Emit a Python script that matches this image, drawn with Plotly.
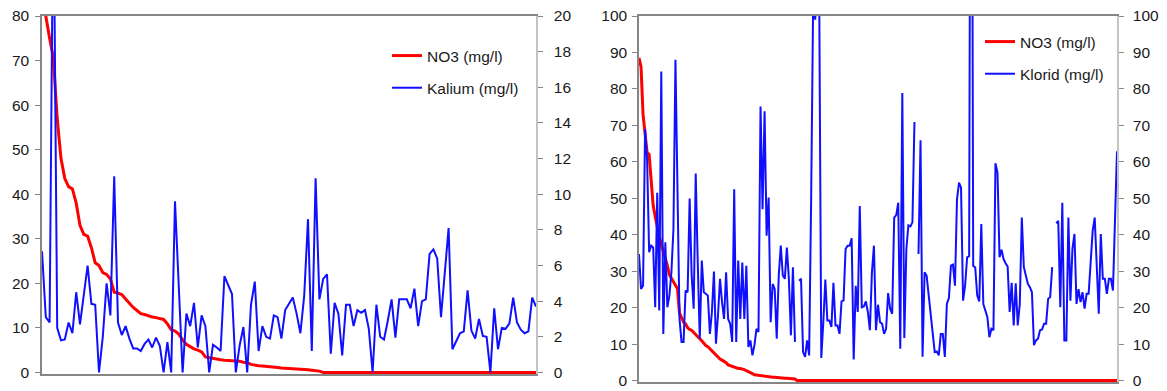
import plotly.graph_objects as go

# ---------------- Left chart: NO3 vs Kalium ----------------
no3_left = [
    90, 80, 75, 70.5, 57, 48, 43.5, 41.7, 41.2, 38,
    33, 31, 30.6, 28, 24.6, 24, 22.4, 22, 21, 18,
    17.8, 17.5, 16.5, 15.5, 14.6, 13.9, 13.2, 13, 12.7, 12.45,
    12.3, 12.1, 11.9, 10.9, 9.6, 9.3, 8.6, 7.3, 6.3, 5.8,
    5.3, 5.0, 4.6, 3.5, 3.3, 3.1, 3.0, 2.85, 2.75, 2.7,
    2.6, 2.6, 2.5, 2.3, 2.2, 1.8, 1.6, 1.5, 1.45, 1.4,
    1.3, 1.2, 1.1, 1.0, 0.9, 0.85, 0.8, 0.75, 0.7, 0.7,
    0.6, 0.5, 0.4, 0.3,
    0, 0, 0, 0, 0, 0, 0, 0, 0, 0,
    0, 0, 0, 0, 0, 0, 0, 0, 0, 0,
    0, 0, 0, 0, 0, 0, 0, 0, 0, 0,
    0, 0, 0, 0, 0, 0, 0, 0, 0, 0,
    0, 0, 0, 0, 0, 0, 0, 0, 0, 0,
    0, 0, 0, 0, 0, 0, 0,
]

kalium = [
    6.8, 3.1, 2.8, 28, 2.5, 1.8, 1.85, 2.8, 2.2, 4.5,
    2.7, 4.4, 6.0, 3.85, 3.8, 0, 2.0, 5.0, 3.2, 11.0,
    2.8, 2.1, 2.6, 1.9, 1.35, 1.35, 1.2, 1.6, 1.85, 1.4,
    1.95, 1.5, 0, 1.7, 0, 9.6, 4.8, 0, 3.3, 2.6,
    3.9, 1.4, 3.2, 2.6,
    0, 1.55, 1.4, 1.2, 5.4, 4.9, 4.4, 0, 1.5, 2.55,
    0, 3.8, 5.1, 1.2, 2.6, 2.0, 1.9, 3.2, 3.1, 1.9,
    3.5, 3.85, 4.2, 3.3, 2.2, 4.3, 8.6, 1.2, 10.9, 4.1,
    5.25, 5.5, 1.05, 3.9, 3.3, 0.95, 3.8, 3.8, 2.6, 3.5,
    3.35, 3.5, 2.45, 0,
    3.8, 2.0, 1.85, 2.9, 4.1, 1.95, 4.1, 4.1, 4.1, 3.6,
    4.7, 2.6, 4.0, 4.1, 6.65, 6.9, 6.4, 3.1, 5.6, 8.1,
    1.3, 1.8, 2.2, 2.3, 4.6, 2.35, 1.9, 3.0, 2.05, 2.0,
    0, 3.6, 1.3, 2.5, 2.45, 2.75, 4.2, 2.8, 2.4, 2.2,
    2.3, 4.2, 3.7,
]
samples_left = list(range(len(kalium)))

# ---------------- Right chart: NO3 vs Klorid ----------------
no3_right = [
    88.5, 86, 73, 67, 62.5, 62, 55, 48, 45, 42,
    39.5, 37.5, 35.5, 34, 31.5, 29, 28, 26.8, 26, 25.2,
    18.5, 17, 16, 15.5, 14.5, 14, 13.8, 13.2, 12.5, 12,
    11.5, 10.8, 10, 9.6, 9.3, 8.7, 8.2, 7.5, 6.8, 6.4,
    5.9, 5.6, 5.3, 4.9, 4.3, 4.1, 3.9, 3.6, 3.4, 3.3,
    3.3, 3.2, 3.0, 2.7, 2.5, 2.2, 1.9, 1.6, 1.5, 1.4,
    1.3, 1.3, 1.2, 1.1, 1.0, 1.0, 0.9, 0.9, 0.8, 0.8,
    0.7, 0.7, 0.6, 0.6, 0.5, 0.5, 0.4, 0.4,
    0, 0, 0, 0, 0, 0, 0, 0, 0, 0,
    0, 0, 0, 0, 0, 0, 0, 0, 0, 0,
    0, 0, 0, 0, 0, 0, 0, 0, 0, 0,
    0, 0, 0, 0, 0, 0, 0, 0, 0, 0,
    0, 0, 0, 0, 0, 0, 0, 0, 0, 0,
    0, 0, 0, 0, 0, 0, 0, 0, 0, 0,
    0, 0, 0, 0, 0, 0, 0, 0, 0, 0,
    0, 0, 0, 0, 0, 0, 0, 0, 0, 0,
    0, 0, 0, 0, 0, 0, 0, 0, 0, 0,
    0, 0, 0, 0, 0, 0, 0, 0, 0, 0,
    0, 0, 0, 0, 0, 0, 0, 0, 0, 0,
    0, 0, 0, 0, 0, 0, 0, 0, 0, 0,
    0, 0, 0, 0, 0, 0, 0, 0, 0, 0,
    0, 0, 0, 0, 0, 0, 0, 0, 0, 0,
    0, 0, 0, 0, 0, 0, 0, 0, 0, 0,
    0, 0, 0, 0, 0, 0, 0, 0, 0,
]

klorid = [
    34.7, 25.1, 26, 68.9, 60.7, 35.2, 37, 36.5, 20.1, 51.5,
    19.2, 84.8, 12.8, 37.9, 20.1, 23.3, 29.7, 41.5, 88, 47.9,
    16.9, 10.6, 10.6, 24.7, 24.2, 49.9, 28.8, 19.7, 56.8, 32.4,
    11.5, 32.9, 24.2, 23.8, 23.3, 12.8, 18.8, 29.9, 10.1, 17.9,
    27.9, 21.5, 16.9, 29.7, 16.9, 15.6, 10.6, 52.5, 10.6, 32.9,
    16.9, 32.4, 16.9, 31.5, 9.2, 11, 6.9, 9.7, 14.2, 13.3,
    75.2, 47, 73.9, 39.7, 50.2, 16, 26.5, 25.1, 11.5, 28.8,
    37, 28.8, 27.9, 36.5, 27.9, 12.4, 31.1, 10.6,
    None, 27.4, 27.9, 7.8, 6.5, 11, 6.9, 50, 105, 99,
    108, 104, 6.2, 16, 27.7, 16.5, 16.5, 14.7, 26.8, 15.1,
    15.1, 12.8, 21.7, 22, 36.1, 37, 37, 39, 5.8, 26,
    18.8, 47.9, 20.1, 20.3, 21.7, 18.8, 13.8, 29.7, 37, 13.8,
    20.8, 16, 15.6, 12.8, 14.2, 24, 19.7, 18.3, 44.7, 45.4,
    48.8, 8.7, 78.9, 11.7, 36.1, 42.6, 42.3, 43.4, 70.9, None,
    34.7, 65.9, 6.5, 29.7, 28.8, 23.3, 18, 13.3, 7.8, 8,
    6.9, 12.8, 12.8, 6.5, 21, 22.6, 31.5, 31.8, 26,
    49.7, 54.3, 52.9, 21.9, 26, 33.8, 34.1, 250, 31.5, 31,
    23.3, 21.7, 42.9, 21, 19.2, 17.4, 11.9, 14.2, 13.8, 59.6,
    57, 33.8, 35.9, 33.3, 32.2, 31.3, 18.8, 26.8, 15.1, 26.7,
    15.1, 21, 44.7, 31.1, 28.8, 26.5, 25.6, 24.2, 9.7, 11,
    11.5, 13.8, 14, 15.6, 15.6, 22.4, 22.9, 31.1, None, 43.1,
    43.8, 20.1, 48.8, 11, 11, 44.7, 21.9, 36.1, 40.2, 21,
    25.1, 21.5, 24.2, 19.7, 23.8, 23.8, 32.4, 41.1, 44.7, 30.6,
    18.3, 40.2, 27.9, 27.9, 23.8, 27.9, 27.9, 24.7, 43.4, 62.9,
]
samples_right = list(range(len(klorid)))

ticks_no3_left = [0, 10, 20, 30, 40, 50, 60, 70, 80]
ticks_kalium = [0, 2, 4, 6, 8, 10, 12, 14, 16, 18, 20]
ticks_right = [0, 10, 20, 30, 40, 50, 60, 70, 80, 90, 100]

RED = "#ff0000"
BLUE = "#1010ff"
FONT = "Liberation Sans, Arial, sans-serif"
TXT = "#1a1a1a"
AX = "#868686"
AX_LIGHT = "#c4c4c4"

fig = go.Figure()
fig.add_trace(go.Scatter(x=samples_left, y=no3_left, name="NO3 (mg/l)", mode="lines",
                         line=dict(color=RED, width=3), xaxis="x", yaxis="y",
                         legend="legend", legendgroup="a"))
fig.add_trace(go.Scatter(x=samples_left, y=kalium, name="Kalium (mg/l)", mode="lines",
                         line=dict(color=BLUE, width=2), xaxis="x", yaxis="y2",
                         legend="legend", legendgroup="b"))
fig.add_trace(go.Scatter(x=samples_right, y=no3_right, name="NO3 (mg/l)", mode="lines",
                         line=dict(color=RED, width=3), xaxis="x2", yaxis="y3",
                         legend="legend2", legendgroup="c"))
fig.add_trace(go.Scatter(x=samples_right, y=klorid, name="Klorid (mg/l)", mode="lines",
                         line=dict(color=BLUE, width=2), xaxis="x2", yaxis="y4",
                         legend="legend2", legendgroup="d"))

# page (window) geometry; the HTML body has an 8px default margin
OFF = 8
PAGE_W, PAGE_H = 1167, 391
P_LEFT, P_RIGHT, P_TOP, P_BOTTOM = 42, 1117, 16, 382
W, H = PAGE_W - OFF, PAGE_H - OFF
ML = P_LEFT - OFF
MT = P_TOP - OFF
MR = W - (P_RIGHT - OFF)
MB = H - (P_BOTTOM - OFF)
plot_w = P_RIGHT - P_LEFT
plot_h = P_BOTTOM - P_TOP

def px_x(p):
    return (p - P_LEFT) / plot_w

def px_y(p):
    return 1 - (p - P_TOP) / plot_h

left_dom = [0, px_x(536)]
right_dom = [px_x(639), 1]
left_ydom = [px_y(374), 1]

xcommon = dict(showticklabels=False, ticks="", showgrid=False, zeroline=False,
               showline=True, linecolor=AX, linewidth=1.5, mirror=True,
               layer="below traces", automargin=False)
ycommon = dict(ticks="outside", ticklen=5, tickwidth=1, tickcolor=AX, showgrid=False,
               zeroline=False, showline=True, linewidth=1.5, automargin=False,
               ticklabeloverflow="allow",
               tickfont=dict(family=FONT, size=15.5, color=TXT), layer="below traces")

fig.update_layout(
    width=W, height=H,
    margin=dict(l=ML, r=MR, t=MT, b=MB, autoexpand=False),
    paper_bgcolor="white", plot_bgcolor="white",
    font=dict(family=FONT, size=15, color=TXT),
    xaxis=dict(domain=left_dom, anchor="y", range=[0, len(kalium) - 1], **xcommon),
    yaxis=dict(domain=left_ydom, anchor="x", range=[-0.35, 80], tickvals=ticks_no3_left,
               linecolor=AX, ticklabelstandoff=3, **ycommon),
    yaxis2=dict(overlaying="y", side="right", anchor="x", range=[-0.0875, 20],
                tickvals=ticks_kalium, linecolor=AX_LIGHT, ticklabelstandoff=8, **ycommon),
    xaxis2=dict(domain=right_dom, anchor="y3", range=[0, len(klorid) - 1], **xcommon),
    yaxis3=dict(domain=[0, 1], anchor="x2", range=[-0.4, 100], tickvals=ticks_right,
                linecolor=AX, ticklabelstandoff=2, **ycommon),
    yaxis4=dict(overlaying="y3", side="right", anchor="x2", range=[-0.4, 100],
                tickvals=ticks_right, linecolor=AX_LIGHT, ticklabelstandoff=6, **ycommon),
    legend=dict(x=px_x(387), y=px_y(39), xanchor="left", yanchor="top",
                bgcolor="rgba(0,0,0,0)", font=dict(family=FONT, size=15.5, color=TXT),
                itemwidth=30, tracegroupgap=9, traceorder="grouped"),
    legend2=dict(x=px_x(980), y=px_y(25), xanchor="left", yanchor="top",
                 bgcolor="rgba(0,0,0,0)", font=dict(family=FONT, size=15.5, color=TXT),
                 itemwidth=30, tracegroupgap=9, traceorder="grouped"),
    showlegend=True,
)

fig.write_html("out.html")
